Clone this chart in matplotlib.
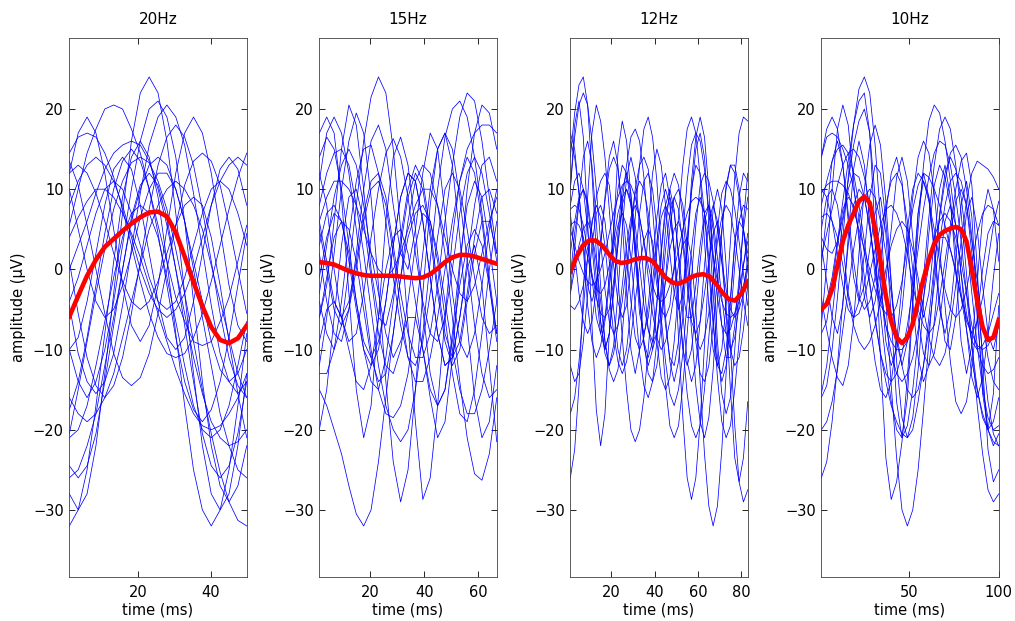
import numpy as np
import matplotlib.pyplot as plt

plt.rcParams['font.family'] = 'DejaVu Sans'
plt.rcParams['font.size'] = 10.5

titles = ['20Hz', '15Hz', '12Hz', '10Hz']
t_max = [50, 67, 83, 100]
xticks = [[20, 40], [20, 40, 60], [20, 40, 60, 80], [50, 100]]
yticks = [-30, -20, -10, 0, 10, 20]

# single trials in uV, every trial sampled evenly from 1 ms to t_max of its panel
trials_20 = [
    [-28, -30, -28, -22, -13, -3, 7, 16, 22, 24, 22, 16, 7, -3, -13, -22, -28, -30, -28, -22, -13],
    [-10, -14, -16, -14, -10, -4, 3, 10, 16, 20, 21, 19, 14, 6, -4, -14, -22, -27, -29, -27, -22],
    [5.5, 10, 14.5, 17.5, 20, 20.5, 20, 17.5, 14.5, 10, 5.5, 1, -3.5, -6.5, -9, -9.5, -9, -6.5, -3.5, 1, 5.5],
    [12, 17, 19, 17, 12, 5, -2, -7, -9, -7, -2, 5, 12, 17, 19, 17, 12, 5, -2, -7, -9],
    [-32, -30, -25, -17, -8, 1, 9, 14, 16, 14, 9, 1, -8, -17, -25, -30, -32, -30, -25, -17, -8],
    [-17.5, -14, -8.5, -2, 4.5, 10, 13.5, 15, 13.5, 10, 4.5, -2, -8.5, -14, -17.5, -19, -17.5, -14, -8.5, -2, 4.5],
    [1, -5.5, -11, -14.5, -16, -14.5, -11, -5.5, 1, 7.5, 13, 16.5, 18, 16.5, 13, 7.5, 1, -5.5, -11, -14.5, -16],
    [13.5, 10.5, 5.5, 0, -5.5, -10.5, -13.5, -14.5, -13.5, -10.5, -5.5, 0, 5.5, 10.5, 13.5, 14.5, 13.5, 10.5, 5.5, 0, -5.5],
    [-10, -8.5, -4, 2, 8, 12.5, 14, 12.5, 8, 2, -4, -8.5, -10, -8.5, -4, 2, 8, 12.5, 14, 12.5, 8],
    [14.5, 16.5, 17, 16.5, 14.5, 11.5, 7.5, 3, -1.5, -5.5, -8.5, -10.5, -11, -10.5, -8.5, -5.5, -1.5, 3, 7.5, 11.5, 14.5],
    [-24.5, -26, -24.5, -20.5, -14, -7, 0, 6.5, 10.5, 12, 10.5, 6.5, 0, -7, -14, -20.5, -24.5, -26, -24.5, -20.5, -14],
    [-26, -25, -22, -18, -12, -6, 0, 6, 10, 13, 14, 13, 10, 6, 0, -6, -12, -18, -22, -25, -26],
    [-20.5, -15, -9, -3, 2.5, 7.5, 11, 13.3, 14, 13.3, 11, 7.5, 2.5, -3, -9, -15, -20.5, -25.3, -29, -31.3, -32],
    [-4, -1, 3, 7, 10, 11, 10, 7, 3, -1, -4, -5, -4, -1, 3, 7, 10, 11, 10, 7, 3],
    [-4.5, -10.5, -14, -15.5, -14, -10.5, -4.5, 2.5, 9.5, 15.5, 19, 20.5, 19, 15.5, 9.5, 2.5, -4.5, -10.5, -14, -15.5, -14],
    [8, 11, 13, 14, 13, 11, 8, 4, 0, -3, -5, -6, -5, -3, 0, 4, 8, 11, 13, 14, 13],
    [-21, -20, -17, -12, -6.5, -1, 4, 7, 8, 7, 4, -1, -6.5, -12, -17, -20, -21, -20, -17, -12, -6.5],
    [-16, -18, -19, -18, -16, -13, -8.5, -4, 0.5, 5, 8, 10, 11, 10, 8, 5, 0.5, -4, -8.5, -13, -16],
    [4, 6.5, 8.5, 10, 10, 9, 7, 4.5, 1.5, -2, -5.5, -9, -12.5, -15.5, -18, -19.5, -20, -19.5, -18, -16, -13],
    [0, 3, 6, 9.5, 12.5, 14.5, 15.5, 16, 15.5, 13.5, 10, 5.5, 0, -5.5, -11, -15.5, -19, -21, -22, -21.5, -20],
    [10, 5, 0, -4, -6, -5, -2, 2, 6.5, 10, 12, 12, 10, 6, 1, -4, -9, -12.5, -14, -13, -10],
    [12, 13, 12, 9.5, 6, 2, -1.5, -4, -5, -4, -1.5, 2, 5.5, 8, 9, 8, 4, -2, -9, -15.5, -21],
]

trials_15 = [
    [-15, -17, -20, -23, -27, -30.5, -32, -30, -24, -16, -8, -1, 4, 7, 8, 6, 2, -4, -10, -15, -18, -18, -15, -10, -4],
    [-12, -6, 2, 10, 16, 19.5, 17, 9, -2, -14, -24, -29, -25, -15, -3, 8, 15, 17, 13, 4, -7, -16, -21, -19, -12],
    [-4, -8, -10, -7, 0, 8, 16, 21.5, 24, 22, 15, 5, -7, -19, -28.7, -26, -17, -6, 4, 11, 14, 12, 6, -2, -9],
    [6, 1, -4, -6, -4, 1, 7, 11, 12, 9, 3, -3, -8, -11, -11, -8, -2, 6, 13, 19, 22, 21, 16, 9, 2],
    [8, 12, 14.5, 15, 13, 8, 2, -5, -12, -17, -20, -21.5, -20, -15, -8, 1, 10, 16.5, 20, 21, 19, 14, 7, -1, -8],
    [-3, 3, 9, 13, 15, 13, 8, 2, -3, -8, -11, -9, -6, -6, -10, -16, -21, -19, -11, 0, 10, 17, 20.5, 19.5, 15],
    [17, 19, 17, 9, -3, -15, -21, -17, -6, 6, 14, 16.5, 13, 5, -5, -13, -17, -15, -8, 1, 8, 11, 9, 3, -4],
    [11, 17, 19, 17, 12, 5, -3, -10, -15, -18, -18.5, -17, -13, -6, 2, 10, 15, 17, 15, 9, 1, -7, -13, -16, -15],
    [-6, -2, 6, 15, 20.5, 18, 10, 0, -6, -7, -3, 4, 10, 13, 11, 5, -2, -8, -11, -9, -3, 4, 9, 10, 7],
    [2, -4, -8, -9, -5, 2, 10, 16, 18, 15, 8, 2, 0, 5, 12, 17, 15, 7, -3, -9, -11, -8, -2, 5, 10],
    [12, 8, 0, -6, -9, -8, -3, 4, 10, 14.5, 16.3, 14, 9, 2, -4, -8, -9, -6, 0, 7, 12, 14, 12, 7, 1],
    [-13, -13, -10, -4, 4, 11, 15, 15.5, 12, 6, -1, -7, -11, -12, -9, -3, 4, 10, 12, 10, 5, -1, -6, -8, -7],
    [-20, -15, -6, 3, 9, 10, 6, -1, -8, -12, -13, -10, -4, 3, 7, 6, 1, -6, -13, -18, -19, -15, -8, 0, 6],
    [-9, -5, -4, -6, -10, -14, -15, -12, -6, 0, 4, 5, 2, -4, -10, -15, -17, -15, -9, -2, 3, 5, 3, -2, -8],
    [6, 9, 11, 11, 10, 8, 5, 2, 0, -1, 0, 2, 5, 8, 10, 10, 8, 4, 0, -3, -4, -2, 2, 6, 9],
    [5, 0, -5, -7, -5, 0, 6, 10, 11, 8, 2, -5, -11, -14, -14, -11, -6, 0, 6, 11, 15, 17, 18, 18, 17],
    [-6, -1, 4, 6, 5, 1, -5, -11, -14, -13, -8, -1, 6, 11, 13, 12, 8, 2, -6, -14, -21, -25.5, -26.3, -23, -16],
    [3, 7, 8, 6, 1, -5, -10, -12, -10, -4, 3, 9, 12, 11, 6, -1, -8, -12, -11, -6, 0, 3, -2, -12, -21.5],
    [14, 16.5, 15, 10, 3, -4, -9, -11, -9, -4, 3, 9, 12, 11, 6, -1, -8, -12, -11, -6, 1, 8, 13, 14, 11],
    [-1, 4, 7, 6, 2, -4, -10, -14, -15, -11, -4, 3, 9, 12, 10, 4, -3, -9, -12, -10, -4, 2, 6, 6, 2],
]

trials_12 = [
    [14, 19.5, 23, 24, 20.5, 12, 2, -6.5, -10, -8, -2.5, 4.5, 10, 12, 9.5, 3.5, -3.5, -9.5, -12, -10, -4.5,
     2.5, 8, 10, 7.5, 1.5, -5.5, -11.5, -14, -12, -6.5, 0.5, 6, 8, 6, 1, -5, -10, -12, -11, -7.5, -2],
    [10, 16.5, 20.5, 22, 20.5, 16, 10, 3.5, -2.5, -6.5, -8, -7, -4, 0.5, 5.5, 10, 13, 14, 12.5, 7.5, 0.5,
     -7.5, -14.5, -19.5, -21, -19.5, -14.5, -8, -1, 5.5, 10.5, 12, 11, 8.5, 5, 1, -2.5, -5, -6, -5, -3, 0],
    [-1, 4.5, 8.5, 10, 8.5, 4.5, -1, -6.5, -10.5, -12, -10.5, -7, -2, 3, 6.5, 8, 6.5, 3.5, -1, -5.5, -8.5,
     -10, -9, -6.5, -3, 0.5, 3, 4, 1.5, -5, -14, -23, -29.5, -32, -29.5, -22.5, -13, -3.5, 3.5, 6, 5, 2],
    [7, 2, -3, -6.5, -8, -6.5, -2.5, 3, 8.5, 12.5, 14, 12.5, 8, 2, -4, -8.5, -10, -8.5, -4.5, 1, 6.5,
     10.5, 12, 9, 2, -8.5, -18.5, -26, -28.7, -26, -19, -9.5, 0.5, 7.5, 10, 7.5, 0.5, -9.5, -19.5, -26.5, -29, -27.5],
    [10, 18, 21, 16.5, 6, -7, -17.5, -22, -18, -8, 4.5, 14.5, 18.5, 16, 9, 1.5, -5.5, -8, -6, -1.5, 3.5,
     8, 10, 8, 2.5, -4.5, -10, -12, -10, -5, 1, 6, 8, 6, 1.5, -3.5, -8, -10, -8.5, -4.5, 0.5, 4.5],
    [-26, -22.5, -14.5, -3, 9, 17, 20.5, 18.5, 14, 7.5, 0.5, -4, -6, -4.5, 0.5, 6.5, 13, 17.5, 19, 16.5, 11,
     2.5, -6, -11.5, -14, -11.5, -6, 2.5, 11, 16.5, 19, 16.5, 10, 0.5, -9, -15.5, -18, -16, -10, -2, 6, 12],
    [-4.5, -5, -4, -2, 1.5, 5.5, 9, 11, 12, 10.5, 5.5, -1, -8.5, -15, -20, -21.5, -20, -16, -10, -3.5, 2.5,
     6.5, 8, 6.5, 2.5, -3.5, -9.5, -15.5, -19.5, -21, -19.5, -15, -8.5, -1.5, 5, 9.5, 11, 10, 7.5, 3.5, -0.5, -4.5],
    [-3, 2.5, 8.5, 14, 16, 13, 6, -2, -9, -12, -9.5, -3, 5, 11.5, 14, 11.5, 5.5, -1.5, -7.5, -10, -8,
     -3.5, 2.5, 7, 9, 7.5, 3, -2, -6.5, -8, -6.5, -3, 1, 4.5, 6, 3, -5.5, -15, -23.5, -26.5, -23.5, -16.5],
    [-3, 0, 3, 5, 6, 4.5, 1, -4, -9, -12.5, -14, -12.5, -8, -1.5, 5, 9.5, 11, 10, 7, 2.5, -2,
     -5, -6, -4.5, 0.5, 6.5, 13, 17.5, 19, 17, 11.5, 3.5, -4.5, -10, -12, -10, -4.5, 3.5, 11.5, 17, 19, 18.5],
    [17, 15, 9.5, 3.5, -2, -4, -2, 3, 9, 14, 16, 13, 6, -3, -10, -13, -10, -3, 5, 12, 15,
     13, 8, 2, -3, -5, -3, 2.5, 9.5, 15, 17, 14, 6, -3, -11, -14, -12, -6.5, 0.5, 6, 8, 7.5],
    [-18, -16, -11.5, -5, 1.5, 6, 8, 6.5, 3, -2.5, -8, -11.5, -13, -11.5, -8.5, -4, 0.5, 3.5, 5, 3.5, -0.5,
     -6, -11.5, -15.5, -17, -15, -10.5, -4, 2.5, 7, 9, 7, 1.5, -6, -13.5, -19, -21, -19.5, -15, -9, -3, 1.5],
    [7.5, 8, 7.5, 5.5, 2.5, -0.5, -3.5, -5.5, -6, -5, -1.5, 3, 8.5, 13, 16.5, 17.5, 16, 11.5, 5, -2.5, -9,
     -13.5, -15, -13.5, -9, -2.5, 4.5, 11, 15.5, 17, 16, 12.5, 7.5, 2, -3.5, -7, -8, -7.5, -5.5, -2.5, 0.5, 3.5],
    [5.5, 6, 5.5, 4, 1.5, -1, -2.5, -3, -2, 0.5, 3.5, 7, 9, 10, 8.5, 5.5, 0.5, -4.5, -7.5, -9, -8,
     -5.5, -1.5, 2.5, 5, 6, 4, -1, -7.5, -14.5, -19, -21, -18.5, -12.5, -4, 4.5, 10.5, 13, 12, 9, 5, 1],
    [5, 3, 1, -0.5, -1.5, -2, -1.5, 0, 2, 4.5, 7, 9, 10.5, 11, 10.5, 9, 6.5, 3.5, 0.5, -2, -3.5,
     -4, -3.5, -2, 0, 2.5, 5, 7, 8.5, 9, 8.5, 7, 4.5, 1.5, -1.5, -4, -5.5, -6, -5.5, -4, -2, 0.5],
    [16, 14, 9.5, 2.5, -4.5, -9, -11, -9.5, -6.5, -2, 2.5, 5.5, 7, 5.5, 1.5, -4.5, -10.5, -14.5, -16, -14, -9,
     -2, 5, 10, 12, 10.5, 6.5, 1, -4.5, -8.5, -10, -8.5, -5.5, -1, 3.5, 6.5, 8, 7, 4, 0, -4, -7],
    [2, 6, 9, 10, 8, 3, -3, -8, -10, -8, -3, 3, 8, 10, 8, 3, -3, -9, -13, -14, -12,
     -7, -1, 5, 9, 10, 8, 3, -3, -9, -13, -14, -12, -7, -1, 5, 10, 13, 13, 10, 5, 0],
    [-12, -14, -13, -9, -3, 3, 7, 8, 6, 1, -5, -10, -12, -10, -5, 1, 7, 11, 12, 10, 5,
     -1, -7, -11, -12, -9, -3, 4, 10, 13, 12, 7, 0, -7, -12, -13, -10, -4, 3, 9, 12, 11],
    [8, 11, 12, 10, 5, -1, -6, -8, -6, -1, 5, 10, 13, 12, 8, 2, -4, -9, -11, -9, -4,
     2, 7, 9, 7, 2, -3, -6, -6, -2, 3, 7, 8, 5, -1, -7, -11, -11, -7, -1, 5, 9],
]

trials_10 = [
    [-16, -14.5, -10, -3.5, 4, 11.5, 18, 22.5, 24, 22, 15.5, 6.5, -4, -14.5, -23.5, -30, -32,
     -30, -25, -17.5, -9, -0.5, 7, 12, 14, 12.5, 9, 3.5, -3, -9.5, -15, -18.5, -20, -19.5],
    [-5, -4, -1, 3.5, 8.5, 13.5, 18, 21, 22, 17, 4.5, -11, -23.5, -28.7, -26.5, -21.5, -13.5,
     -4, 5, 13, 18.5, 20.5, 19.5, 16, 11, 5.5, -0.5, -5.5, -9, -10, -9.5, -8, -5.5, -3],
    [-7, 0.5, 10, 17.5, 20.5, 18, 11, 3.5, -3.5, -6, -4, 1, 7, 12, 14, 11, 4,
     -4, -11, -14, -12, -6.5, 0.5, 6, 8, 5.5, -0.5, -7.5, -13.5, -16, -13.5, -8, -1, 4.5],
    [14, 17.5, 19, 17.5, 13, 7, 1, -3.5, -5, -4, -1, 3.5, 8, 11, 12, 10.5, 6,
     0, -6, -10.5, -12, -10.5, -6.5, -1, 4.5, 8.5, 10, 8, 2, -6, -14, -20, -22, -20.5],
    [-26, -24, -19, -12, -4, 3, 8, 10, 9, 5.5, 0.5, -5.5, -11.5, -16.5, -20, -21, -19.5,
     -15, -8.5, -1, 6.5, 13, 17.5, 19, 17.5, 13, 7, -0.5, -9.5, -17, -23, -27.5, -29, -28],
    [-3.5, -7.5, -11, -13.5, -14.5, -12, -6.5, 2, 10, 15.5, 18, 15.5, 8.5, -1.5, -11.5, -18.5, -21,
     -18.5, -12.5, -4, 4.5, 10.5, 13, 11.5, 8, 2.5, -3, -6.5, -8, -6.5, -3.5, 1, 5.5, 8.5],
    [3, -1.5, -6, -8, -4.5, 4, 12.5, 16, 13, 6, -1, -4, -1.5, 5, 11.5, 14, 11,
     4, -3, -6, -3, 3.5, 10, 13, 9, 0, -9, -13, -9.5, -1.5, 6.5, 10, 7.5, 1],
    [10, 9, 6, 2, -2, -5, -6, -5.5, -3.5, -0.5, 2.5, 5.5, 7.5, 8, 7, 5, 2,
     -2, -5, -7, -8, -7, -3.5, 1, 5.5, 10, 13.5, 14.5, 10.5, 0, -12, -22.5, -26.5, -25],
    [6.5, 7, 6, 4, 0.5, -3.5, -7, -9, -10, -9, -7, -4, 0, 3, 5, 6, 5,
     2.5, -1, -5, -8.5, -11, -12, -10.5, -7, -2, 3.5, 8.5, 12, 13.5, 13, 12.5, 11.5, 10],
    [14, 16.5, 17, 16.5, 15, 13, 10, 6.5, 2, -2, -6, -10.5, -14, -17, -19, -20.5, -21,
     -20, -16.5, -12, -6, 0.5, 6.5, 11, 14.5, 15.5, 14, 10, 4, -3.5, -10.5, -16.5, -20.5, -22],
    [-20, -19, -16.5, -12.5, -7.5, -2.5, 2.5, 6.5, 9, 10, 9, 6, 2, -3, -8, -12, -15,
     -16, -15, -12, -7.5, -2, 3.5, 8, 11, 12, 11, 8, 3.5, -1.5, -6.5, -11, -14, -15],
    [9.5, 10.5, 11, 11, 10.5, 9.5, 7.5, 5, 2.5, 0, -2.5, -4.5, -5.5, -6, -4.5, -1.5, 3,
     7.5, 10.5, 12, 11.5, 10, 8, 5.5, 2.5, -0.5, -3.5, -6, -8, -9.5, -10, -9.5, -8, -6],
    [0.5, 7, 13.5, 16, 13, 6, -1, -4, -2, 2.5, 7, 9, 4.5, -6, -16.5, -21, -16,
     -4.5, 7, 12, 9, 2, -5, -8, -5, 1.5, 8, 11, 6.5, -4.5, -15.5, -20, -15.5, -4.5],
    [4, 2.5, 2, 3.5, 6.5, 11, 15.5, 18.5, 20, 17, 9, -1, -9, -12, -10, -5, 2,
     9, 14, 16, 14.5, 9.5, 2.5, -4.5, -11.5, -16.5, -18, -16.5, -12, -6, 0, 4.5, 6, 5.5],
    [1.5, 4.5, 7.5, 10.5, 13, 14.5, 15, 14, 11.5, 8, 3, -2, -7, -10.5, -13, -14, -13,
     -11, -7.5, -3.5, 0.5, 4, 6, 7, 6, 4, 1, -3, -7, -10, -12, -13, -12.5, -11],
    [-8, -6.5, -2, 3, 7.5, 9, 8, 4.5, -1, -6.5, -11.5, -15, -16, -14, -9, -2, 5,
     10, 12, 11, 8.5, 5, 1, -2.5, -5, -6, -5, -2.5, 1, 4.5, 7, 8, 7.5, 5.5],
    [8, 11, 13.5, 15, 15.5, 14.5, 12, 8, 3.5, -1.5, -6.5, -10.5, -13, -14, -13, -10.5, -7,
     -2.5, 2.5, 7.5, 11.5, 14.5, 16, 15.5, 13, 9, 3.5, -3, -9.5, -15, -18.5, -20, -19, -16],
    [-15.5, -12, -6, 0.5, 6, 10, 12, 11.5, 9, 5, 0.5, -3.5, -7, -9, -10, -10, -9,
     -7, -4.5, -1.5, 1.5, 3.5, 4, 4, 2.5, 0, -3.5, -7.5, -11.5, -15, -18, -20, -21.5, -22],
    [5, 9, 10, 8, 3, -3, -6, -4, 2, 9, 13, 12, 6, -2, -9, -12, -9,
     -1, 7, 11, 9, 3, -4, -9, -10, -6, 1, 7, 9, 5, -2, -8, -10, -7],
]

# trial averages
mean_20 = [-5.9, -3.3, -0.8, 1.2, 2.8, 3.8, 4.8, 5.7, 6.5, 7.1, 7.2, 6.6, 4.6, 1.6, -1.6, -4.6, -7.2,
           -8.8, -9.2, -8.6, -7.0]
mean_15 = [0.9, 0.8, 0.6, 0.2, -0.2, -0.5, -0.7, -0.8, -0.8, -0.8, -0.8, -0.9, -1.0, -1.1, -1.0, -0.6,
           0.1, 0.9, 1.5, 1.8, 1.8, 1.6, 1.3, 1.0, 0.7]
mean_12 = [-0.3, 1.6, 3.0, 3.6, 3.6, 3.0, 2.0, 1.1, 0.8, 0.9, 1.2, 1.4, 1.4, 1.0, 0.0, -1.0, -1.6, -1.8,
           -1.5, -1.0, -0.7, -0.6, -0.9, -1.8, -2.9, -3.7, -3.9, -3.0, -1.5]
mean_10 = [-5, -4.3, -2.5, 0.5, 3.5, 5.5, 7, 8.5, 9.1, 8.3, 5, 1, -3.3, -6.5, -8.5, -9.2, -8.5, -6.8,
           -4, -1.2, 1.2, 3.2, 4.3, 4.8, 5.1, 5.3, 5.0, 3.5, 0, -4, -7.2, -8.8, -8.5, -6.3]

trials = [trials_20, trials_15, trials_12, trials_10]
means = [mean_20, mean_15, mean_12, mean_10]

fig = plt.figure(figsize=(10.15, 6.21), dpi=100)
lefts = [0.0683, 0.3146, 0.5619, 0.8092]

for k in range(4):
    ax = fig.add_axes([lefts[k], 0.0704, 0.1748, 0.869])

    for y in trials[k]:
        ax.plot(np.linspace(1, t_max[k], len(y)), y, color='b', lw=0.55)
    m = means[k]
    ax.plot(np.linspace(1, t_max[k], len(m)), m, color='r', lw=3.3)

    ax.set_xlim(1, t_max[k])
    ax.set_ylim(-38.4, 28.9)
    ax.set_xticks(xticks[k])
    ax.set_yticks(yticks)
    ax.tick_params(direction='in', top=True, right=True, length=4, width=0.6)
    ax.tick_params(axis='x', pad=5.5)
    ax.tick_params(axis='y', pad=4)
    for sp in ax.spines.values():
        sp.set_linewidth(0.6)
        sp.set_color('0.25')

    ax.set_title(titles[k], pad=10, fontsize=11)
    ax.set_xlabel('time (ms)')
    ax.set_ylabel('amplitude (\u00b5V)')
    ax.xaxis.set_label_coords(0.5, -0.047)
    ax.yaxis.set_label_coords(-0.244, 0.5)

fig.savefig('out.png', dpi=100)
